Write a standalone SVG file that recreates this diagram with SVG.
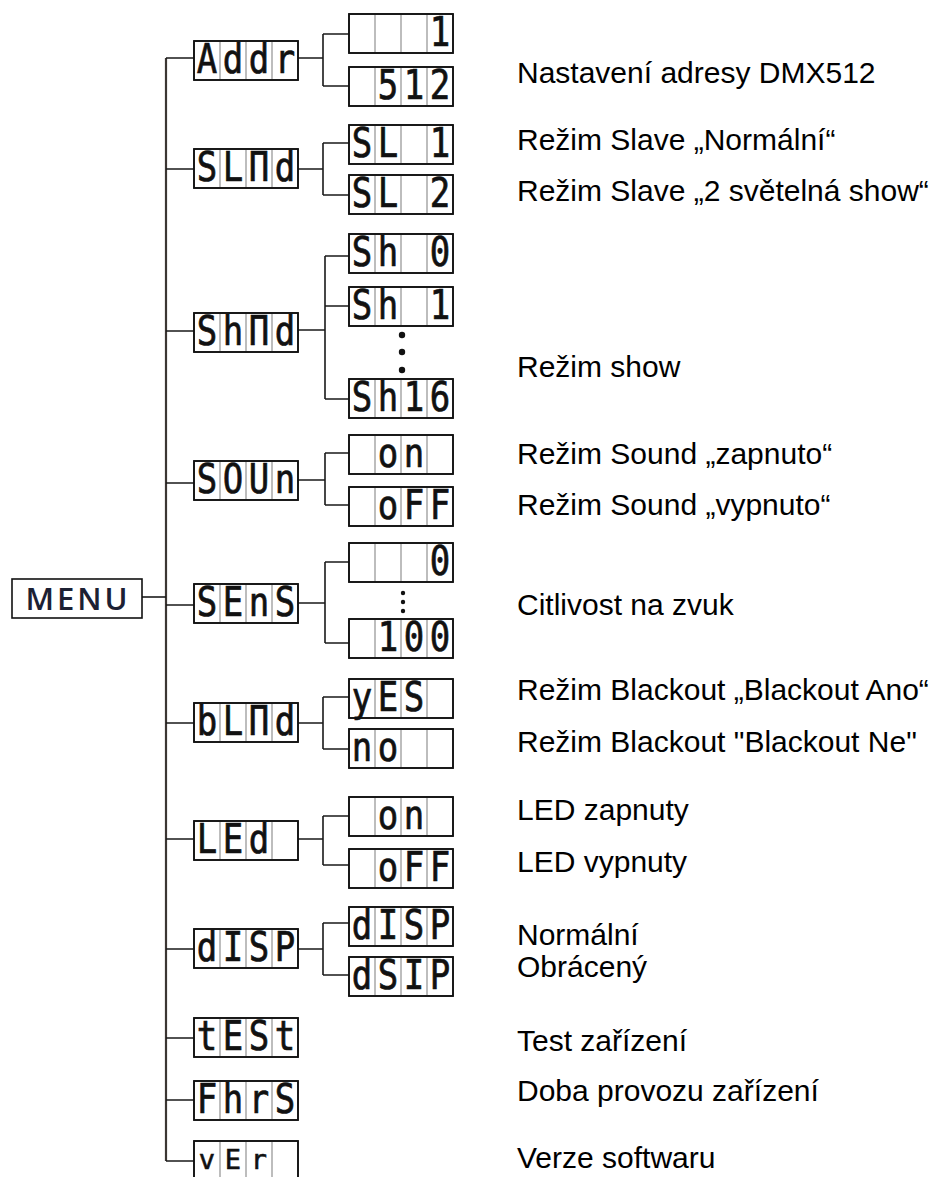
<svg xmlns="http://www.w3.org/2000/svg" xmlns:xlink="http://www.w3.org/1999/xlink" width="939" height="1177" viewBox="0 0 939 1177">
<style>
.bx{fill:#fff;stroke:#111;stroke-width:1.6}
.dv{stroke:#9a9a9a;stroke-width:1.3}
.seg{font-family:"DejaVu Sans Mono","Liberation Mono",monospace;font-weight:normal;font-size:34px;fill:#111;text-anchor:middle;stroke:#111;stroke-width:0.6}
.lbl{font-family:"Liberation Sans",Arial,sans-serif;font-size:30px;fill:#000}
.cn{fill:none;stroke:#1a1a1a;stroke-width:1.6}
.tr{fill:none;stroke:#3b3633;stroke-width:2.2}
.menu{font-family:"Open Sans","Noto Sans",sans-serif;font-size:31px;font-weight:600;fill:#1c2033;letter-spacing:3px;text-anchor:middle}
</style>
<defs>
<g id="cells">
<rect class="bx" x="0" y="0" width="104" height="39"/>
<line class="dv" x1="26" y1="1" x2="26" y2="38"/>
<line class="dv" x1="52" y1="1" x2="52" y2="38"/>
<line class="dv" x1="78" y1="1" x2="78" y2="38"/>
<rect x="0" y="0" width="104" height="39" fill="none" stroke="#111" stroke-width="1.6"/>
</g>
</defs>
<rect width="939" height="1177" fill="#fff"/>

<g id="connectors">
<path class="tr" d="M166 58V1161"/>
<path class="cn" d="M142 597H166"/>
<path class="cn" d="M166 58H194 M166 169H194 M166 331H194 M166 483H194 M166 605H194 M166 723H194 M166 839H194 M166 949H194 M166 1038H194 M166 1100H194 M166 1161H194"/>
<path class="cn" d="M298 58H323 M323 34V86 M323 34H349 M323 86H349"/>
<path class="cn" d="M298 169H323 M323 143V195 M323 143H349 M323 195H349"/>
<path class="cn" d="M298 330H325 M325 256V399 M325 256H349 M325 306H349 M325 399H349"/>
<path class="cn" d="M298 480H325 M325 453V505 M325 453H349 M325 505H349"/>
<path class="cn" d="M298 603H325 M325 562V643 M325 562H349 M325 643H349"/>
<path class="cn" d="M298 723H323 M323 697V749 M323 697H349 M323 749H349"/>
<path class="cn" d="M298 839H323 M323 816V865 M323 816H349 M323 865H349"/>
<path class="cn" d="M298 949H323 M323 923V975 M323 923H349 M323 975H349"/>
</g>

<g id="menu">
<rect class="bx" x="12" y="579" width="130" height="39"/>
<text class="menu" x="78" y="610">MENU</text>
</g>

<g id="addr" transform="translate(194,41)"><use xlink:href="#cells"/><text class="seg" transform="translate(0,32) scale(1,1.2)" x="13 39 65 91">Addr</text></g>
<g id="addr-1" transform="translate(349,14)"><use xlink:href="#cells"/><text class="seg" transform="translate(0,32) scale(1,1.2)" x="91">1</text></g>
<g id="addr-512" transform="translate(349,67)"><use xlink:href="#cells"/><text class="seg" transform="translate(0,32) scale(1,1.2)" x="39 65 91">512</text></g>

<g id="slnd" transform="translate(194,149)"><use xlink:href="#cells"/><text class="seg" transform="translate(0,32) scale(1,1.2)" x="13 39 65 91">SLΠd</text></g>
<g id="sl1" transform="translate(349,125)"><use xlink:href="#cells"/><text class="seg" transform="translate(0,32) scale(1,1.2)" x="13 39 91">SL1</text></g>
<g id="sl2" transform="translate(349,175)"><use xlink:href="#cells"/><text class="seg" transform="translate(0,32) scale(1,1.2)" x="13 39 91">SL2</text></g>

<g id="shnd" transform="translate(194,313)"><use xlink:href="#cells"/><text class="seg" transform="translate(0,32) scale(1,1.2)" x="13 39 65 91">ShΠd</text></g>
<g id="sh0" transform="translate(349,234)"><use xlink:href="#cells"/><text class="seg" transform="translate(0,32) scale(1,1.2)" x="13 39 91">Sh0</text></g>
<g id="sh1" transform="translate(349,287)"><use xlink:href="#cells"/><text class="seg" transform="translate(0,32) scale(1,1.2)" x="13 39 91">Sh1</text></g>
<g id="sh-dots" fill="#111"><circle cx="402" cy="335" r="3.2"/><circle cx="402" cy="352" r="3.2"/><circle cx="402" cy="370" r="3.2"/></g>
<g id="sh16" transform="translate(349,379)"><use xlink:href="#cells"/><text class="seg" transform="translate(0,32) scale(1,1.2)" x="13 39 65 91">Sh16</text></g>

<g id="soun" transform="translate(194,461)"><use xlink:href="#cells"/><text class="seg" transform="translate(0,32) scale(1,1.2)" x="13 39 65 91">SOUn</text></g>
<g id="soun-on" transform="translate(349,435)"><use xlink:href="#cells"/><text class="seg" transform="translate(0,32) scale(1,1.2)" x="39 65">on</text></g>
<g id="soun-off" transform="translate(349,487)"><use xlink:href="#cells"/><text class="seg" transform="translate(0,32) scale(1,1.2)" x="39 65 91">oFF</text></g>

<g id="sens" transform="translate(194,584)"><use xlink:href="#cells"/><text class="seg" transform="translate(0,32) scale(1,1.2)" x="13 39 65 91">SEnS</text></g>
<g id="sens-0" transform="translate(349,543)"><use xlink:href="#cells"/><text class="seg" transform="translate(0,32) scale(1,1.2)" x="91">0</text></g>
<g id="sens-dots" fill="#111"><circle cx="403" cy="593" r="2.2"/><circle cx="403" cy="602" r="2.2"/><circle cx="403" cy="611" r="2.2"/></g>
<g id="sens-100" transform="translate(349,619)"><use xlink:href="#cells"/><text class="seg" transform="translate(0,32) scale(1,1.2)" x="39 65 91">100</text></g>

<g id="blnd" transform="translate(194,703)"><use xlink:href="#cells"/><text class="seg" transform="translate(0,32) scale(1,1.2)" x="13 39 65 91">bLΠd</text></g>
<g id="blnd-yes" transform="translate(349,679)"><use xlink:href="#cells"/><text class="seg" transform="translate(0,32) scale(1,1.2)" x="13 39 65">yES</text></g>
<g id="blnd-no" transform="translate(349,729)"><use xlink:href="#cells"/><text class="seg" transform="translate(0,32) scale(1,1.2)" x="13 39">no</text></g>

<g id="led" transform="translate(194,821)"><use xlink:href="#cells"/><text class="seg" transform="translate(0,32) scale(1,1.2)" x="13 39 65">LEd</text></g>
<g id="led-on" transform="translate(349,797)"><use xlink:href="#cells"/><text class="seg" transform="translate(0,32) scale(1,1.2)" x="39 65">on</text></g>
<g id="led-off" transform="translate(349,849)"><use xlink:href="#cells"/><text class="seg" transform="translate(0,32) scale(1,1.2)" x="39 65 91">oFF</text></g>

<g id="disp" transform="translate(194,929)"><use xlink:href="#cells"/><text class="seg" transform="translate(0,32) scale(1,1.2)" x="13 39 65 91">dISP</text></g>
<g id="disp-n" transform="translate(349,907)"><use xlink:href="#cells"/><text class="seg" transform="translate(0,32) scale(1,1.2)" x="13 39 65 91">dISP</text></g>
<g id="disp-r" transform="translate(349,957)"><use xlink:href="#cells"/><text class="seg" transform="translate(0,32) scale(1,1.2)" x="13 39 65 91">dSIP</text></g>

<g id="test" transform="translate(194,1018)"><use xlink:href="#cells"/><text class="seg" transform="translate(0,32) scale(1,1.2)" x="13 39 65 91">tESt</text></g>
<g id="fhrs" transform="translate(194,1081)"><use xlink:href="#cells"/><text class="seg" transform="translate(0,32) scale(1,1.2)" x="13 39 65 91">FhrS</text></g>
<g id="ver" transform="translate(194,1141)"><use xlink:href="#cells"/><text class="seg" style="font-size:27px" x="13 39 65" y="28">vEr</text></g>

<g id="labels">
<text class="lbl" x="517" y="83">Nastavení adresy DMX512</text>
<text class="lbl" x="517" y="150">Režim Slave „Normální“</text>
<text class="lbl" x="517" y="201">Režim Slave „2 světelná show“</text>
<text class="lbl" x="517" y="377">Režim show</text>
<text class="lbl" x="517" y="464">Režim Sound „zapnuto“</text>
<text class="lbl" x="517" y="515">Režim Sound „vypnuto“</text>
<text class="lbl" x="517" y="615">Citlivost na zvuk</text>
<text class="lbl" x="517" y="700">Režim Blackout „Blackout Ano“</text>
<text class="lbl" x="517" y="752">Režim Blackout "Blackout Ne"</text>
<text class="lbl" x="517" y="820">LED zapnuty</text>
<text class="lbl" x="517" y="872">LED vypnuty</text>
<text class="lbl" x="517" y="945">Normální</text>
<text class="lbl" x="517" y="977">Obrácený</text>
<text class="lbl" x="517" y="1051">Test zařízení</text>
<text class="lbl" x="517" y="1101">Doba provozu zařízení</text>
<text class="lbl" x="517" y="1168">Verze softwaru</text>
</g>
</svg>
